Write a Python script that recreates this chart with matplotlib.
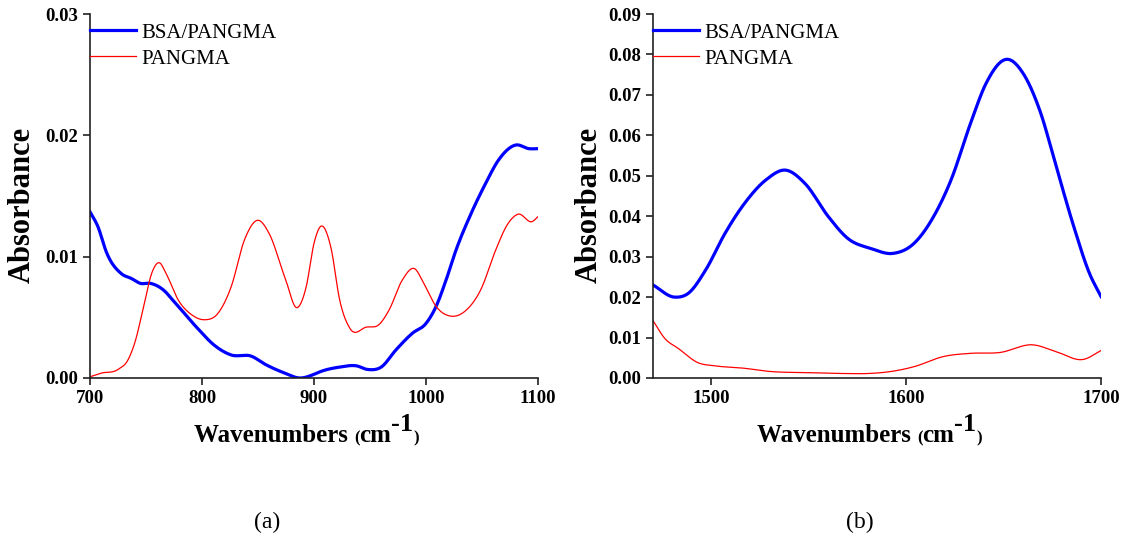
import numpy as np
import matplotlib
matplotlib.use('Agg')
from matplotlib import pyplot as plt

plt.rcParams['font.family'] = 'Liberation Serif'

# panel (a): 700-1100 cm-1
wn_a_blue = [700, 707, 715, 728, 737, 745, 754, 765, 776, 797, 811, 826, 844, 857,
             874, 887, 900, 905, 923, 938, 948, 960, 973, 988, 1000, 1009, 1018,
             1027, 1039, 1053, 1065, 1080, 1092, 1100]
abs_a_blue = [0.0137, 0.0125, 0.0103, 0.0086, 0.0082, 0.0078, 0.0078, 0.0073, 0.0062,
              0.0040, 0.0027, 0.0019, 0.0018, 0.0011, 0.0004, 0.0000, 0.0003, 0.0005,
              0.0009, 0.0010, 0.0007, 0.0009, 0.0023, 0.0037, 0.0045, 0.0059, 0.0081,
              0.0106, 0.0133, 0.0160, 0.0180, 0.0192, 0.0189, 0.0189]

wn_a_red = [700, 710, 725, 734, 740, 748, 755, 762, 768, 779, 791, 802, 814, 826,
            838, 850, 860, 874, 885, 893, 900, 906, 915, 923, 932, 947, 958, 967,
            979, 990, 998, 1009, 1022, 1036, 1049, 1062, 1073, 1082, 1095, 1100]
abs_a_red = [0.0001, 0.0004, 0.0007, 0.0015, 0.0029, 0.0059, 0.0086, 0.0095, 0.0086,
             0.0064, 0.0052, 0.0048, 0.0053, 0.0075, 0.0114, 0.0130, 0.0119, 0.0083,
             0.0058, 0.0075, 0.0111, 0.0125, 0.0108, 0.0064, 0.0041, 0.0042, 0.0044,
             0.0056, 0.0081, 0.0090, 0.0078, 0.0059, 0.0051, 0.0056, 0.0073, 0.0105,
             0.0127, 0.0135, 0.0129, 0.0133]

# panel (b): 1470-1700 cm-1
wn_b_blue = [1470, 1481, 1488, 1497, 1507, 1517, 1528, 1538, 1548, 1560, 1570, 1582,
             1593, 1604, 1614, 1623, 1633, 1641, 1652, 1660, 1669, 1677, 1686, 1694, 1700]
abs_b_blue = [0.0230, 0.0200, 0.0209, 0.0267, 0.0358, 0.0432, 0.0490, 0.0514, 0.0481,
              0.0399, 0.0345, 0.0320, 0.0308, 0.0333, 0.0399, 0.0490, 0.0630, 0.0729,
              0.0788, 0.0753, 0.0655, 0.0522, 0.0374, 0.0259, 0.0201]

wn_b_red = [1470, 1476, 1483, 1493, 1502, 1517, 1528, 1552, 1569, 1580, 1592, 1604,
            1619, 1633, 1648, 1665, 1677, 1691, 1700]
abs_b_red = [0.0142, 0.0098, 0.0073, 0.0038, 0.0030, 0.0024, 0.0017, 0.0013, 0.0011,
             0.0011, 0.0016, 0.0028, 0.0053, 0.0061, 0.0063, 0.0082, 0.0065, 0.0046, 0.0068]

panels = [
    dict(ax_left=0.0801, xlim=(700, 1100), xticks=[700, 800, 900, 1000, 1100],
         ylim=(0, 0.03), yticks=np.arange(0, 0.031, 0.01),
         blue=(wn_a_blue, abs_a_blue), red=(wn_a_red, abs_a_red),
         tag='(a)', tag_x=0.396, ylab_x=-0.118),
    dict(ax_left=0.5815, xlim=(1470, 1700), xticks=[1500, 1600, 1700],
         ylim=(0, 0.09), yticks=np.arange(0, 0.091, 0.01),
         blue=(wn_b_blue, abs_b_blue), red=(wn_b_red, abs_b_red),
         tag='(b)', tag_x=0.462, ylab_x=-0.110),
]


def smooth(x, y):
    # cubic hermite through the read-off points
    x = np.asarray(x, float)
    y = np.asarray(y, float)
    xs = np.linspace(x[0], x[-1], 600)
    h = np.diff(x)
    d = np.diff(y) / h
    m = np.zeros_like(y)
    m[1:-1] = (d[:-1] * h[1:] + d[1:] * h[:-1]) / (h[:-1] + h[1:])
    m[0], m[-1] = d[0], d[-1]
    idx = np.clip(np.searchsorted(x, xs) - 1, 0, len(h) - 1)
    t = (xs - x[idx]) / h[idx]
    h00 = 2 * t**3 - 3 * t**2 + 1
    h10 = t**3 - 2 * t**2 + t
    h01 = -2 * t**3 + 3 * t**2
    h11 = t**3 - t**2
    ys = h00 * y[idx] + h10 * h[idx] * m[idx] + h01 * y[idx + 1] + h11 * h[idx] * m[idx + 1]
    return xs, ys


fig = plt.figure(figsize=(11.23, 5.41), dpi=100)

for p in panels:
    ax = fig.add_axes([p['ax_left'], 0.3013, 0.399, 0.6728])
    bx, by = smooth(*p['blue'])
    rx, ry = smooth(*p['red'])
    ax.plot(bx, by, color='#0000ff', lw=2.3, label='BSA/PANGMA')
    ax.plot(rx, ry, color='#ff0000', lw=0.9, label='PANGMA')
    ax.set_xlim(*p['xlim'])
    ax.set_ylim(*p['ylim'])
    ax.set_xticks(p['xticks'])
    ax.set_yticks(p['yticks'])
    ax.set_yticklabels(['%.2f' % v for v in p['yticks']])
    for s in ['top', 'right']:
        ax.spines[s].set_visible(False)
    for s in ['left', 'bottom']:
        ax.spines[s].set_linewidth(1.2)
        ax.spines[s].set_color('#222222')
    ax.tick_params(direction='out', length=5, width=1.2, labelsize=13.5, color='#222222')
    for lab in ax.get_xticklabels() + ax.get_yticklabels():
        lab.set_fontweight('bold')
    ax.set_ylabel('Absorbance', fontsize=22, fontweight='bold')
    ax.yaxis.set_label_coords(p['ylab_x'], 0.475)

    ax.legend(loc='upper left', bbox_to_anchor=(0.0, 0.975), frameon=False,
              fontsize=15, handlelength=2.2, handletextpad=0.25, borderpad=0,
              borderaxespad=0, labelspacing=0.3)

    # x label built from pieces: Wavenumbers (cm^-1)
    t1 = ax.text(0.232, -0.175, 'Wavenumbers ', transform=ax.transAxes,
                 fontsize=18, fontweight='bold', va='baseline', ha='left')
    t2 = ax.annotate('(', xy=(1, 0), xycoords=t1, va='bottom', ha='left',
                     fontsize=12, fontweight='bold')
    t3 = ax.annotate('cm', xy=(1, 0), xycoords=t2, va='bottom', ha='left',
                     fontsize=18, fontweight='bold')
    t4 = ax.annotate('-1', xy=(1, 0.45), xycoords=t3, va='bottom', ha='left',
                     fontsize=19, fontweight='bold')
    ax.annotate(')', xy=(1, 0), xycoords=(t4, t2), va='bottom', ha='left',
                fontsize=12, fontweight='bold')

    ax.text(p['tag_x'], -0.398, p['tag'], transform=ax.transAxes,
            fontsize=17, ha='center', va='center')

fig.savefig('out.png', dpi=100)
